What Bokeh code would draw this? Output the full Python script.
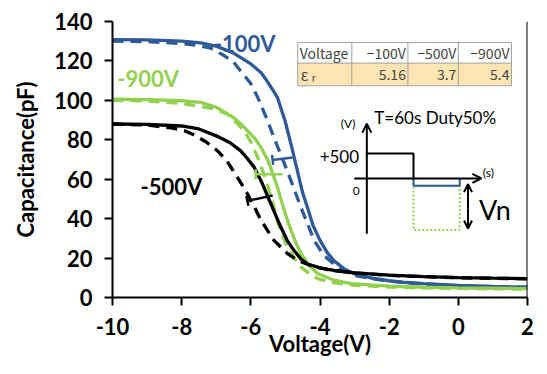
from bokeh.plotting import figure
from bokeh.models import Range1d, FixedTicker, Arrow, TeeHead, OpenHead, Span, Label
from bokeh.embed import file_html
from bokeh.resources import INLINE

# ---- data ----
x_ticks = [-10, -8, -6, -4, -2, 0, 2]
x_tick_labels = ["-10", "-8", "-6", "-4", "-2", "0", "2"]
y_ticks = [0, 20, 40, 60, 80, 100, 120, 140]

blue_solid_x = [-10, -9, -8, -7.45, -7, -6.5, -6, -5.7, -5.5, -5.23, -5, -4.8, -4.65, -4.5, -4.36, -4.2, -4, -3.8, -3.6, -3.3, -3, -2.5, -2, -1.5, -1, 0, 1, 2]
blue_solid_y = [130.8, 130.7, 130, 129.2, 127.5, 124, 118.5, 114, 109, 101.5, 89, 75, 64, 53, 45.5, 36.5, 29, 23, 18.7, 14.5, 12, 9.8, 8.5, 7.6, 7, 6.1, 5.6, 5.2]
blue_dash_x = [-10, -9, -8, -7.5, -7.16, -6.8, -6.5, -6.3, -6, -5.8, -5.5, -5.33, -5.1, -4.94, -4.75, -4.55, -4.35, -4.17, -3.9, -3.6, -3.3, -3, -2.6, -2, -1, 0, 1, 2]
blue_dash_y = [130, 129.8, 128.8, 127.8, 126.5, 123, 119.5, 115, 108.5, 101.5, 89, 81, 71, 64, 55, 45.7, 37, 29, 21.5, 17, 13.5, 11.2, 9.8, 8.3, 6.8, 6, 5.5, 5.1]

green_solid_x = [-10, -9, -8, -7.45, -7, -6.5, -6.2, -5.9, -5.7, -5.5, -5.23, -5.1, -4.94, -4.75, -4.55, -4.3, -4.07, -3.6, -3.1, -2, -1, 0, 1, 2]
green_solid_y = [100.6, 100.4, 99.8, 99, 96.5, 91.3, 86.5, 81, 76, 69.4, 56, 48, 39, 30, 22.3, 16, 12.2, 8.8, 7, 5.8, 5.2, 4.9, 4.7, 4.5]
green_dash_x = [-10, -9, -8, -7.5, -7, -6.68, -6.4, -6.2, -6, -5.8, -5.65, -5.5, -5.35, -5.23, -5.1, -4.94, -4.75, -4.55, -4.3, -4.07, -3.6, -3, -2, -1, 0, 1, 2]
green_dash_y = [100, 99.7, 98.5, 97, 95.5, 93, 88.5, 84.6, 79, 71, 64, 56, 47, 39, 32, 25.5, 20, 15.4, 12, 9.6, 7.5, 6.2, 5.3, 4.9, 4.6, 4.4, 4.2]

black_solid_x = [-10, -9, -8, -7.5, -7, -6.6, -6.3, -6.1, -5.9, -5.7, -5.5, -5.3, -5.13, -4.95, -4.75, -4.55, -4.36, -4, -3.6, -3, -2, -1, 0, 1, 2]
black_solid_y = [88, 87.8, 87, 85.5, 82, 78.5, 74.5, 70.5, 66, 59, 50.8, 42.5, 35.6, 29, 23.8, 19.5, 17, 15, 13.7, 12.5, 11.3, 10.6, 10.1, 9.8, 9.6]
black_dash_x = [-10, -9, -8.3, -7.9, -7.65, -7.3, -6.97, -6.7, -6.5, -6.3, -6.1, -5.9, -5.7, -5.5, -5.33, -5.1, -4.94, -4.7, -4.5, -4.2, -3.8, -3, -2, 0, 2]
black_dash_y = [88, 87.5, 86, 84.5, 82.5, 79, 74.5, 69.5, 64, 58.5, 52.6, 46, 39, 33.5, 29, 25, 22.3, 19.5, 17.8, 15.8, 14.2, 12.5, 11.2, 10, 9.5]

table_header = ["Voltage", "\u2212100V", "\u2212500V", "\u2212900V"]
table_values = ["5.16", "3.7", "5.4"]

BLUE = "#2E5B97"
GREEN = "#92D050"
BLACK = "#000000"
FONT = "Lato"

p = figure(width=547, height=374, output_backend="svg", toolbar_location=None,
           x_range=Range1d(-10, 2), y_range=Range1d(0, 140),
           min_border_left=112, min_border_right=20, min_border_top=21, min_border_bottom=77)
p.outline_line_color = None
p.grid.visible = False
p.background_fill_color = "white"
p.border_fill_color = "white"

for ax in (p.xaxis[0], p.yaxis[0]):
    ax.axis_line_width = 2
    ax.major_tick_line_width = 2
    ax.major_tick_out = 8
    ax.major_tick_in = 0
    ax.minor_tick_line_color = None
    ax.major_label_text_font = FONT
    ax.major_label_text_font_style = "bold"
    ax.major_label_text_font_size = "22px"
    ax.major_label_text_color = "black"
    ax.axis_label_text_font = FONT
    ax.axis_label_text_font_style = "bold"
    ax.axis_label_text_font_size = "22px"
    ax.axis_label_text_color = "black"

p.xaxis.ticker = FixedTicker(ticks=x_ticks)
p.xaxis.major_label_overrides = {t: s for t, s in zip(x_ticks, x_tick_labels)}
p.yaxis.ticker = FixedTicker(ticks=y_ticks)
p.xaxis.axis_label = "Voltage(V)"
p.yaxis.axis_label = "Capacitance(pF)"
p.xaxis.major_label_standoff = 12
p.yaxis.major_label_standoff = 12
p.xaxis.axis_label_standoff = -8
p.yaxis.axis_label_standoff = 12

p.add_layout(Span(location=2, dimension="height", line_color="black", line_width=2))

# curves
LW = 3.3
p.line(blue_solid_x, blue_solid_y, line_color=BLUE, line_width=LW)
p.line(blue_dash_x, blue_dash_y, line_color=BLUE, line_width=LW, line_dash="11 7")
p.line(green_solid_x, green_solid_y, line_color=GREEN, line_width=LW)
p.line(green_dash_x, green_dash_y, line_color=GREEN, line_width=LW, line_dash="11 7")
p.line(black_solid_x, black_solid_y, line_color=BLACK, line_width=LW)
p.line(black_dash_x, black_dash_y, line_color=BLACK, line_width=LW, line_dash="11 7")

# shift arrows
p.add_layout(Arrow(x_start=-4.79, y_start=71, x_end=-5.37, y_end=69.8, line_color=BLUE, line_width=2.5,
                   end=TeeHead(size=10, line_color=BLUE, line_width=2.5)))
p.add_layout(Arrow(x_start=-5.08, y_start=62.5, x_end=-5.86, y_end=62.5, line_color=GREEN, line_width=2.5,
                   end=TeeHead(size=10, line_color=GREEN, line_width=2.5)))
p.add_layout(Arrow(x_start=-5.37, y_start=51.7, x_end=-6.1, y_end=49, line_color=BLACK, line_width=2.5,
                   end=TeeHead(size=10, line_color=BLACK, line_width=2.5)))

# series labels
for txt, x, y, c in [("-100V", -7.07, 128.9, BLUE), ("-900V", -9.86, 110.9, GREEN), ("-500V", -9.19, 56.2, BLACK)]:
    p.add_layout(Label(x=x, y=y, text=txt, text_color=c, text_font=FONT, text_font_style="bold",
                       text_font_size="22px", text_baseline="middle", text_align="left"))

# table
col_edges = [-4.646, -3.081, -1.458, 0.0, 1.536]
row_edges = [129.3, 118.9, 107.4]
p.quad(left=col_edges[0], right=col_edges[-1], top=row_edges[1], bottom=row_edges[2],
       fill_color="#FCE5B3", line_color=None)
p.quad(left=col_edges[0], right=col_edges[-1], top=row_edges[0], bottom=row_edges[1],
       fill_color="white", line_color=None)
for xe in col_edges:
    p.line([xe, xe], [row_edges[0], row_edges[2]], line_color="#A0A0A0", line_width=1)
for ye in row_edges:
    p.line([col_edges[0], col_edges[-1]], [ye, ye], line_color="#A0A0A0", line_width=1)
TFONT = "Noto Sans CJK JP"
hy = (row_edges[0] + row_edges[1]) / 2
vy = (row_edges[1] + row_edges[2]) / 2
p.add_layout(Label(x=col_edges[0], y=hy, x_offset=2, text=table_header[0], text_font=TFONT,
                   text_font_size="14px", text_baseline="middle", text_align="left"))
for i in range(1, 4):
    p.add_layout(Label(x=col_edges[i + 1], y=hy, x_offset=-2, text=table_header[i], text_font=TFONT,
                       text_font_size="14px", text_baseline="middle", text_align="right"))
    p.add_layout(Label(x=col_edges[i + 1], y=vy, x_offset=-2, text=table_values[i - 1], text_font=TFONT,
                       text_font_size="14px", text_baseline="middle", text_align="right"))
p.add_layout(Label(x=col_edges[0], y=vy, x_offset=3, text="\u03b5", text_font=TFONT,
                   text_font_size="15px", text_baseline="middle", text_align="left"))
p.add_layout(Label(x=col_edges[0], y=vy - 1.5, x_offset=14, text="r", text_font=TFONT,
                   text_font_size="10px", text_baseline="middle", text_align="left"))

# inset waveform diagram
p.add_layout(Arrow(x_start=-2.646, y_start=32.4, x_end=-2.646, y_end=88.1, line_color="black", line_width=2,
                   end=OpenHead(size=9, line_color="black", line_width=2)))
p.add_layout(Arrow(x_start=-3.01, y_start=60.4, x_end=0.667, y_end=60.4, line_color="black", line_width=2,
                   end=OpenHead(size=9, line_color="black", line_width=2)))
p.line([-2.646, -1.296, -1.296], [73.1, 73.1, 60.4], line_color="black", line_width=2)
p.line([-1.296, -1.296, 0.04, 0.04, -1.296], [60.4, 34.4, 34.4, 56.7, 56.7], line_color=GREEN, line_width=2,
       line_dash="2 2")
p.line([-1.296, -1.296, 0.04, 0.04], [60.4, 56.7, 56.7, 60.4], line_color=BLUE, line_width=2)
p.add_layout(Arrow(x_start=0.28, y_start=45, x_end=0.28, y_end=57.5, line_color="black", line_width=2,
                   end=OpenHead(size=8, line_color="black", line_width=2)))
p.add_layout(Arrow(x_start=0.28, y_start=45, x_end=0.28, y_end=35.0, line_color="black", line_width=2,
                   end=OpenHead(size=8, line_color="black", line_width=2)))

for txt, x, y, size, align in [("T=60s Duty50%", -2.43, 91.2, "17px", "left"),
                               ("(V)", -3.19, 88.5, "12px", "center"),
                               ("(s)", 0.87, 63.5, "12px", "center"),
                               ("+500", -2.87, 71.4, "17px", "right"),
                               ("0", -2.95, 54.0, "12px", "center"),
                               ("Vn", 0.6, 44.5, "27px", "left")]:
    p.add_layout(Label(x=x, y=y, text=txt, text_font=FONT, text_font_size=size,
                       text_baseline="middle", text_align=align, text_color="black"))

open("out.html", "w").write(file_html(p, INLINE))
